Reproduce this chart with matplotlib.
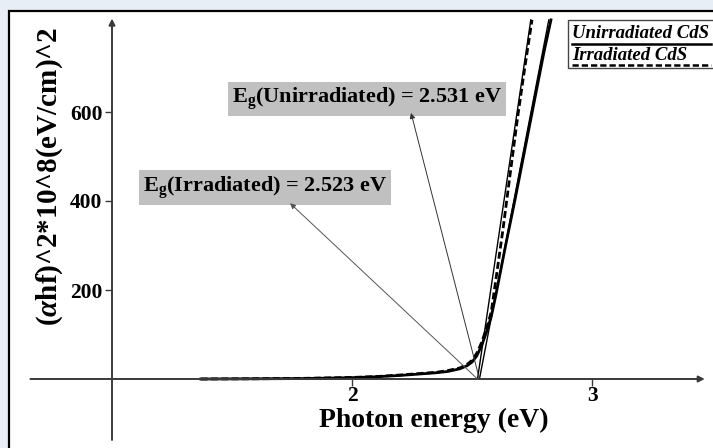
import numpy as np
import matplotlib
matplotlib.use("Agg")
import matplotlib.pyplot as plt
from matplotlib.patches import Rectangle
from matplotlib.lines import Line2D

plt.rcParams['font.family'] = ['Liberation Serif', 'DejaVu Serif']
plt.rcParams['font.weight'] = 'bold'
plt.rcParams['mathtext.fontset'] = 'custom'
plt.rcParams['mathtext.rm'] = 'Liberation Serif:bold'
plt.rcParams['mathtext.it'] = 'Liberation Serif:bold:italic'
plt.rcParams['mathtext.bf'] = 'Liberation Serif:bold'

# (alpha h f)^2 vs photon energy
E_unirr = [1.37, 1.6, 1.8, 2.0, 2.1, 2.2, 2.3, 2.35, 2.4, 2.45, 2.48, 2.5, 2.52,
           2.54, 2.56, 2.58, 2.6, 2.64, 2.68, 2.72, 2.76, 2.8, 2.829]
y_unirr = [0, 0.5, 1, 3, 5, 8, 12, 14, 17, 23, 30, 38, 52,
           75, 105, 140, 190, 300, 405, 515, 625, 735, 807]

E_irr = [1.37, 1.6, 1.8, 2.0, 2.1, 2.2, 2.3, 2.35, 2.4, 2.45, 2.48, 2.5, 2.52,
         2.54, 2.56, 2.58, 2.6, 2.63, 2.66, 2.69, 2.72, 2.75]
y_irr = [0, 0.5, 1.5, 3.5, 5.5, 9, 13, 15, 19, 25, 33, 42, 58,
         82, 113, 150, 225, 340, 465, 588, 700, 807]

# band gaps from the linear fits and their slopes
Eg_unirr = 2.531
Eg_irr = 2.523
slope_unirr = 2792
slope_irr = 3635
y_top = 807

fig = plt.figure(figsize=(7.13, 4.48), dpi=100, facecolor='#e8eef5')
fig.patches.append(Rectangle((9/713, -0.1), 1, 1.1 - 11/448, transform=fig.transFigure,
                             facecolor='white', edgecolor='black', lw=1.6, zorder=-10))

ax = fig.add_axes([0, 0, 1, 1])
ax.set_facecolor('none')
ax.set_xlim(1 - 112/240, 1 + 601/240)
ax.set_ylim(-69*200/89, 379*200/89)

# axes through the origin
for s in ['top', 'right']:
    ax.spines[s].set_visible(False)
ax.spines['left'].set_position(('data', 1.0))
ax.spines['bottom'].set_position(('data', 0))
ax.spines['left'].set_color('none')
ax.spines['bottom'].set_color('none')
ax.annotate('', xy=(1.0, y_top + 3), xytext=(1.0, -137),
            arrowprops=dict(arrowstyle='-|>', lw=1.4, color='#3a3a3a', mutation_scale=9,
                            shrinkA=0, shrinkB=0))
ax.annotate('', xy=(3.47, 0), xytext=(0.66, 0),
            arrowprops=dict(arrowstyle='-|>', lw=1.4, color='#3a3a3a', mutation_scale=9,
                            shrinkA=0, shrinkB=0))
ax.set_xticks([2, 3])
ax.set_yticks([200, 400, 600])
ax.tick_params(axis='both', direction='out', length=5, width=1, color='#3a3a3a',
               labelsize=15.5)
ax.tick_params(axis='x', pad=0)
ax.tick_params(axis='y', pad=2)

ax.plot(E_unirr, y_unirr, color='black', lw=2.0, label='Unirradiated CdS')
ax.plot(E_irr, y_irr, color='black', lw=2.0, ls=(0, (2.5, 1.2)), label='Irradiated CdS')

# linear fits
ax.plot([Eg_unirr, Eg_unirr + y_top/slope_unirr], [0, y_top], color='black', lw=1.0)
ax.plot([Eg_irr, Eg_irr + y_top/slope_irr], [0, y_top], color='black', lw=1.0)

box = dict(boxstyle='square,pad=0.18', facecolor='#c0c0c0', edgecolor='none')
ax.text(2.0625, 629, r'E$_{\mathrm{g}}$(Unirradiated) = 2.531 eV',
        ha='center', va='center', fontsize=16, bbox=box)
ax.annotate('', xy=(2.246, 598), xytext=(Eg_unirr, 0),
            arrowprops=dict(arrowstyle='-|>', lw=0.7, color='#333333', mutation_scale=8,
                            shrinkA=0, shrinkB=0))
ax.text(1.6375, 430, r'E$_{\mathrm{g}}$(Irradiated) = 2.523 eV',
        ha='center', va='center', fontsize=16, bbox=box)
ax.annotate('', xy=(1.742, 395), xytext=(Eg_irr, 0),
            arrowprops=dict(arrowstyle='-|>', lw=0.7, color='#555555', mutation_scale=8,
                            shrinkA=0, shrinkB=0))

ax.text(2.342, -93, 'Photon energy (eV)', ha='center', va='center', fontsize=20)
ax.text(1 - 62/240, (379 - 176)*200/89, r'($\alpha$hf)^2*10^8(eV/cm)^2',
        rotation=90, ha='center', va='center', fontsize=21)

# legend: text with line sample underneath
fig.patches.append(Rectangle((568/713, 1 - 68/448), 0.5, 48/448, transform=fig.transFigure,
                             facecolor='white', edgecolor='#444444', lw=1.0, zorder=3))
fig.text(572/713, 1 - 33/448, 'Unirradiated CdS', style='italic', fontsize=13.5,
         va='center', ha='left', zorder=4)
fig.add_artist(Line2D([572/713, 711/713], [1 - 44/448, 1 - 44/448], color='black', lw=1.8,
                      transform=fig.transFigure, zorder=4))
fig.text(572/713, 1 - 55/448, 'Irradiated CdS', style='italic', fontsize=13.5,
         va='center', ha='left', zorder=4)
fig.add_artist(Line2D([572/713, 711/713], [1 - 65/448, 1 - 65/448], color='black', lw=1.8,
                      ls=(0, (2.5, 1.2)), transform=fig.transFigure, zorder=4))

fig.savefig('out.png', dpi=100, facecolor=fig.get_facecolor())
